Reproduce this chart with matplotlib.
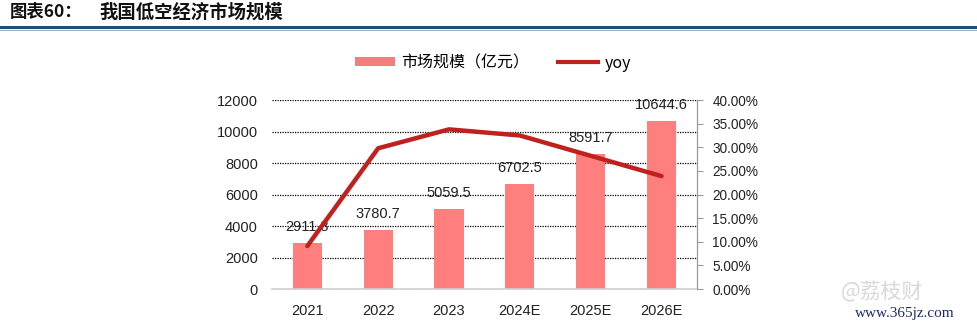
import numpy as np
import matplotlib.pyplot as plt
from matplotlib.lines import Line2D
from matplotlib.patches import Patch

plt.rcParams['font.family'] = ['Liberation Sans', 'Noto Sans CJK SC', 'DejaVu Sans']

years = ['2021', '2022', '2023', '2024E', '2025E', '2026E']
market = [2911.8, 3780.7, 5059.5, 6702.5, 8591.7, 10644.6]
yoy = [9.1, 29.8, 33.8, 32.5, 28.2, 23.9]
left_ticks = [0, 2000, 4000, 6000, 8000, 10000, 12000]
right_ticks = [0, 5, 10, 15, 20, 25, 30, 35, 40]

bar_color = '#FF7F7F'
line_color = '#C0201E'

fig = plt.figure(figsize=(9.78, 3.27), dpi=100)
ax = fig.add_axes([0.278, 0.116, 0.4347, 0.578])
x = np.arange(len(years))

ax.bar(x, market, width=0.41, color=bar_color, zorder=2)
for xi, v in zip(x, market):
    ax.annotate(f'{v:.1f}', (xi, v), xytext=(0, 11.5), textcoords='offset points',
                ha='center', va='center', fontsize=10.5, color='#222222', zorder=5)

ax.set_xlim(-0.5, len(years) - 0.5)
ax.set_ylim(0, 12000)
ax.set_yticks(left_ticks)
ax.set_yticklabels([str(t) for t in left_ticks])
ax.set_xticks(x)
ax.set_xticklabels(years)
ax.tick_params(axis='y', length=0, pad=10, labelsize=10.5, labelcolor='#222222')
ax.tick_params(axis='x', length=0, pad=11, labelsize=10.5, labelcolor='#222222')
ax.yaxis.grid(True, linestyle=(0, (1, 1)), color='#000000', linewidth=0.9, zorder=0)
ax.set_axisbelow(True)
for s in ['top', 'left', 'right']:
    ax.spines[s].set_visible(False)
ax.spines['bottom'].set_color('#D0D0D0')
ax.spines['bottom'].set_linewidth(1.2)

ax2 = ax.twinx()
ax2.plot(x, yoy, color=line_color, linewidth=3.2, solid_capstyle='round', zorder=4)
ax2.set_ylim(0, 40)
ax2.set_yticks(right_ticks)
ax2.set_yticklabels([f'{t:.2f}%' for t in right_ticks])
ax2.tick_params(axis='y', direction='out', length=4.5, width=0.8, color='#999999',
                pad=6.5, labelsize=9.8, labelcolor='#222222')
for s in ['top', 'left', 'bottom']:
    ax2.spines[s].set_visible(False)
ax2.spines['right'].set_color('#999999')
ax2.spines['right'].set_linewidth(0.9)

handles = [Patch(facecolor='#F08080', edgecolor='none'),
           Line2D([0], [0], color=line_color, linewidth=3)]
fig.legend(handles, ['市场规模（亿元）', 'yoy'], loc='center', bbox_to_anchor=(0.504, 0.807),
           ncol=2, frameon=False, handlelength=2.5, handleheight=0.5,
           columnspacing=1.8, handletextpad=0.4,
           prop={'family': ['Noto Sans CJK SC', 'DejaVu Sans'], 'size': 11.5})

# heading and rule
fig.text(0.010, 0.962, '图表60：', fontsize=12.5, fontweight='bold',
         family=['Noto Sans CJK SC'], va='center', ha='left', color='#111111')
fig.text(0.102, 0.962, '我国低空经济市场规模', fontsize=13.2, fontweight='bold',
         family=['Noto Sans CJK SC'], va='center', ha='left', color='#111111')
fig.add_artist(Line2D([0, 1], [0.917, 0.917], color='#1F4E79', linewidth=2.2,
                      transform=fig.transFigure))
fig.add_artist(Line2D([0, 1], [0.907, 0.907], color='#9DB3C8', linewidth=0.8,
                      transform=fig.transFigure))

# watermark
fig.text(0.902, 0.107, '@荔枝财', fontsize=15, color='#D8D8D8', ha='center', va='center',
         family=['Noto Sans CJK SC'])
fig.text(0.925, 0.042, 'www.365jz.com', fontsize=11, color='#1A2A6C', ha='center', va='center',
         family=['Liberation Serif'])

fig.savefig('out.png', dpi=100)
